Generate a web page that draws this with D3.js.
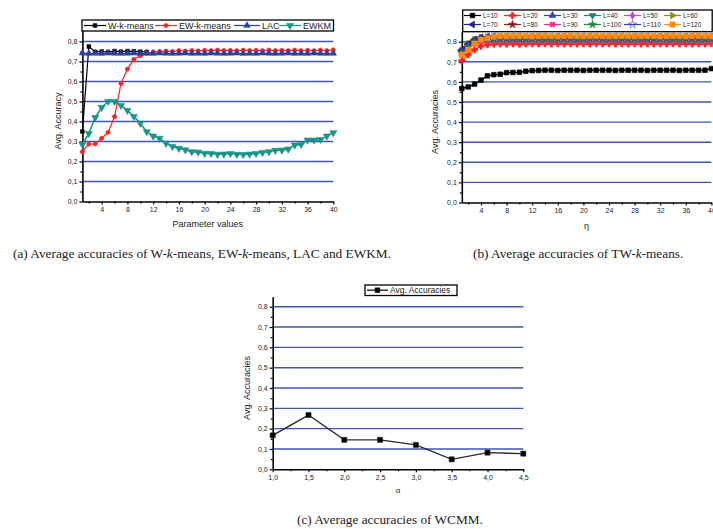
<!DOCTYPE html>
<html><head><meta charset="utf-8">
<script src="https://cdn.jsdelivr.net/npm/d3@7"></script>
<style>body{margin:0;background:#fff}svg{display:block}</style>
</head><body>
<svg id="fig" width="713" height="529"></svg>
<script>
// ---------- DATA ----------
const paramValues = [1,2,3,4,5,6,7,8,9,10,11,12,13,14,15,16,17,18,19,20,21,22,23,24,25,26,27,28,29,30,31,32,33,34,35,36,37,38,39,40];
const yTickValues = [0,0.1,0.2,0.3,0.4,0.5,0.6,0.7,0.8];
const yMinorValues = [0.05,0.15,0.25,0.35,0.45,0.55,0.65,0.75];
const xTickValues = [4,8,12,16,20,24,28,32,36,40];
const xMinorValues = [2,6,10,14,18,22,26,30,34,38];

// (a)
const wkmeans = [0.35,0.775,0.748,0.750,0.747,0.752,0.749,0.752,0.751,0.749,0.748];
const ewkmeans = [0.249,0.287,0.288,0.316,0.346,0.424,0.590,0.662,0.711,0.729,0.742,0.748,0.750,0.752,0.750,0.755,0.752,0.755,0.753,0.756,0.754,0.757,0.755,0.756,0.754,0.757,0.755,0.756,0.754,0.757,0.755,0.756,0.754,0.757,0.755,0.756,0.754,0.757,0.755,0.758];
const lac = [0.742,0.740,0.741,0.740,0.742,0.741,0.740,0.741,0.742,0.740,0.741,0.740,0.742,0.741,0.740,0.741,0.742,0.740,0.741,0.740,0.742,0.741,0.740,0.741,0.742,0.740,0.741,0.740,0.742,0.741,0.740,0.741,0.742,0.740,0.741,0.740,0.742,0.741,0.740,0.741];
const ewkm = [0.285,0.340,0.420,0.470,0.500,0.500,0.480,0.455,0.425,0.391,0.349,0.327,0.316,0.291,0.275,0.266,0.258,0.249,0.247,0.241,0.240,0.236,0.237,0.240,0.236,0.235,0.237,0.240,0.245,0.249,0.256,0.257,0.262,0.282,0.285,0.307,0.307,0.310,0.327,0.344];
const seriesNamesA = ["W-k-means","EW-k-means","LAC","EWKM"];

// (b)
const seriesNamesB = ["L=10","L=20","L=30","L=40","L=50","L=60","L=70","L=80","L=90","L=100","L=110","L=120"];
const tw10 = [0.567,0.575,0.589,0.609,0.630,0.636,0.638,0.646,0.647,0.648,0.653,0.656,0.657,0.658,0.658,0.657,0.658,0.658,0.658,0.657,0.658,0.658,0.658,0.658,0.657,0.658,0.658,0.658,0.658,0.657,0.658,0.658,0.658,0.658,0.657,0.658,0.658,0.658,0.658,0.666];
const tw20 = [0.705,0.735,0.760,0.778,0.785,0.788,0.789,0.788,0.789,0.788,0.789,0.790,0.789,0.790,0.789,0.790,0.789,0.790,0.789,0.790,0.789,0.790,0.789,0.790,0.789,0.790,0.789,0.790,0.789,0.790,0.789,0.790,0.789,0.790,0.789,0.790,0.789,0.790,0.789,0.790];
const tw30 = [0.755,0.785,0.805,0.815,0.818,0.820,0.819,0.820,0.821,0.820,0.819,0.820,0.821,0.820,0.819,0.820,0.821,0.820,0.819,0.820,0.821,0.820,0.819,0.820,0.821,0.820,0.819,0.820,0.821,0.820,0.819,0.820,0.821,0.820,0.819,0.820,0.821,0.820,0.819,0.820];
const tw40 = [0.750,0.780,0.800,0.812,0.818,0.820,0.821,0.820,0.821,0.822,0.821,0.820,0.821,0.822,0.821,0.820,0.821,0.822,0.821,0.820,0.821,0.822,0.821,0.820,0.821,0.822,0.821,0.820,0.821,0.822,0.821,0.820,0.821,0.822,0.821,0.820,0.821,0.822,0.821,0.820];
const tw50 = [0.752,0.782,0.805,0.815,0.820,0.822,0.821,0.822,0.823,0.822,0.821,0.822,0.823,0.822,0.821,0.822,0.823,0.822,0.821,0.822,0.823,0.822,0.821,0.822,0.823,0.822,0.821,0.822,0.823,0.822,0.821,0.822,0.823,0.822,0.821,0.822,0.823,0.822,0.821,0.822];
const tw60 = [0.758,0.790,0.810,0.820,0.823,0.824,0.823,0.824,0.825,0.824,0.823,0.824,0.825,0.824,0.823,0.824,0.825,0.824,0.823,0.824,0.825,0.824,0.823,0.824,0.825,0.824,0.823,0.824,0.825,0.824,0.823,0.824,0.825,0.824,0.823,0.824,0.825,0.824,0.823,0.824];
const tw70 = [0.760,0.790,0.812,0.822,0.825,0.826,0.825,0.826,0.827,0.826,0.825,0.826,0.827,0.826,0.825,0.826,0.827,0.826,0.825,0.826,0.827,0.826,0.825,0.826,0.827,0.826,0.825,0.826,0.827,0.826,0.825,0.826,0.827,0.826,0.825,0.826,0.827,0.826,0.825,0.826];
const tw80 = [0.745,0.775,0.798,0.810,0.815,0.816,0.815,0.816,0.817,0.816,0.815,0.816,0.817,0.816,0.815,0.816,0.817,0.816,0.815,0.816,0.817,0.816,0.815,0.816,0.817,0.816,0.815,0.816,0.817,0.816,0.815,0.816,0.817,0.816,0.815,0.816,0.817,0.816,0.815,0.816];
const tw90 = [0.740,0.770,0.790,0.800,0.802,0.803,0.802,0.803,0.804,0.803,0.802,0.803,0.804,0.803,0.802,0.803,0.804,0.803,0.802,0.803,0.804,0.803,0.802,0.803,0.804,0.803,0.802,0.803,0.804,0.803,0.802,0.803,0.804,0.803,0.802,0.803,0.804,0.803,0.802,0.803];
const tw100 = [0.748,0.778,0.800,0.808,0.810,0.811,0.810,0.811,0.812,0.811,0.810,0.811,0.812,0.811,0.810,0.811,0.812,0.811,0.810,0.811,0.812,0.811,0.810,0.811,0.812,0.811,0.810,0.811,0.812,0.811,0.810,0.811,0.812,0.811,0.810,0.811,0.812,0.811,0.810,0.811];
const tw110 = [0.752,0.783,0.805,0.815,0.817,0.818,0.817,0.818,0.819,0.818,0.817,0.818,0.819,0.818,0.817,0.818,0.819,0.818,0.817,0.818,0.819,0.818,0.817,0.818,0.819,0.818,0.817,0.818,0.819,0.818,0.817,0.818,0.819,0.818,0.817,0.818,0.819,0.818,0.817,0.818];
const tw120 = [0.735,0.760,0.790,0.810,0.818,0.825,0.828,0.827,0.828,0.829,0.828,0.827,0.828,0.829,0.828,0.827,0.828,0.829,0.828,0.827,0.828,0.829,0.828,0.827,0.828,0.829,0.828,0.827,0.828,0.829,0.828,0.827,0.828,0.829,0.828,0.827,0.828,0.829,0.828,0.827];

// (c)
const alphaValues = [1.0,1.5,2.0,2.5,3.0,3.5,4.0,4.5];
const alphaMinor = [1.25,1.75,2.25,2.75,3.25,3.75,4.25];
const wcmm = [0.167,0.267,0.145,0.145,0.120,0.049,0.082,0.077];
const seriesNameC = "Avg. Accuracies";

// ---------- DRAWING ----------
const svg = d3.select("#fig");
const SANS = "'Liberation Sans', Arial, sans-serif";
const SERIF = "'Liberation Serif', 'Times New Roman', serif";
const GRID = "#3d56b2";
const comma = d => d3.format(".1f")(d).replace(".", ",");

function panel(o) {
  const g = svg.append("g");
  const x = d3.scaleLinear().domain(o.xDomain).range([o.left, o.right]);
  const y0 = d3.scaleLinear().domain([0, 0.8]).range([o.bottom, o.y08]);
  const y = d3.scaleLinear().domain([0, y0.invert(o.top)]).range([o.bottom, o.top]);
  g.append("g").selectAll("line").data(yTickValues.filter(d => d > 0)).join("line")
    .attr("x1", o.left).attr("x2", o.right)
    .attr("y1", d => y(d)).attr("y2", d => y(d))
    .attr("stroke", GRID).attr("stroke-width", 1.4);
  g.append("g").attr("transform", `translate(0,${o.bottom})`)
    .call(d3.axisBottom(x).tickValues(o.xMinor).tickSize(2).tickSizeOuter(0).tickFormat(""))
    .call(s => s.select(".domain").remove())
    .call(s => s.selectAll("line").attr("stroke", "#000").attr("stroke-width", 1.2));
  g.append("g").attr("transform", `translate(${o.left},0)`)
    .call(d3.axisLeft(y).tickValues(yMinorValues).tickSize(2).tickSizeOuter(0).tickFormat(""))
    .call(s => s.select(".domain").remove())
    .call(s => s.selectAll("line").attr("stroke", "#000").attr("stroke-width", 1.2));
  const ax = g.append("g").attr("transform", `translate(0,${o.bottom})`)
    .call(d3.axisBottom(x).tickValues(o.xTicks).tickSize(3).tickSizeOuter(0).tickPadding(3).tickFormat(o.xFormat));
  const ay = g.append("g").attr("transform", `translate(${o.left},0)`)
    .call(d3.axisLeft(y).tickValues(yTickValues).tickSize(3).tickSizeOuter(0).tickPadding(2).tickFormat(comma));
  [ax, ay].forEach(a => {
    a.select(".domain").attr("stroke", "#000").attr("stroke-width", 1.6);
    a.selectAll(".tick line").attr("stroke", "#000").attr("stroke-width", 1.2);
    a.selectAll("text").attr("font-family", SANS).attr("font-size", 7).attr("fill", "#222");
  });
  g.append("text").attr("x", (o.left + o.right) / 2).attr("y", o.xTitleY)
    .attr("text-anchor", "middle").attr("font-family", SANS).attr("font-size", o.xTitleSize || 9)
    .attr("fill", "#222").text(o.xTitle);
  g.append("text").attr("transform", `translate(${o.yTitleX},${o.yTitleCY}) rotate(-90)`)
    .attr("text-anchor", "middle").attr("font-family", SANS).attr("font-size", 9)
    .attr("fill", "#222").text(o.yTitle);
  return {g, x, y};
}

function series(p, xs, ys, color, symType, symSize, rot, fill, lw) {
  const pts = ys.map((v, i) => [xs[i], v]);
  const line = d3.line().x(d => p.x(d[0])).y(d => p.y(d[1]));
  p.g.append("path").attr("d", line(pts)).attr("fill", "none")
    .attr("stroke", color).attr("stroke-width", lw || 1.2);
  p.g.append("g").selectAll("path").data(pts).join("path")
    .attr("d", d3.symbol().type(symType).size(symSize)())
    .attr("transform", d => `translate(${p.x(d[0])},${p.y(d[1])}) rotate(${rot || 0})`)
    .attr("fill", fill === undefined ? color : fill).attr("stroke", color).attr("stroke-width", 0.6);
}

function legendItem(g, x0, yMid, len, color, symType, symSize, rot, fill, label, fs) {
  g.append("line").attr("x1", x0).attr("x2", x0 + len).attr("y1", yMid).attr("y2", yMid)
    .attr("stroke", color).attr("stroke-width", 1.2);
  g.append("path").attr("d", d3.symbol().type(symType).size(symSize)())
    .attr("transform", `translate(${x0 + len / 2},${yMid}) rotate(${rot || 0})`)
    .attr("fill", fill === undefined ? color : fill).attr("stroke", color).attr("stroke-width", 0.6);
  g.append("text").attr("x", x0 + len + 2).attr("y", yMid + fs * 0.35)
    .attr("font-family", SANS).attr("font-size", fs).attr("fill", "#222").text(label);
}

// ----- (a) -----
const pa = panel({xDomain: [1, 40], left: 82.4, right: 333.3, bottom: 201.5, y08: 41.5, top: 20,
  xTicks: xTickValues, xMinor: xMinorValues, xFormat: d3.format("d"),
  xTitle: "Parameter values", xTitleY: 227, yTitle: "Avg. Accuracy", yTitleX: 61, yTitleCY: 121});
const colA = ["#000000", "#ff2020", "#2c3f9e", "#1b9488"];
series(pa, paramValues, wkmeans, colA[0], d3.symbolSquare, 14, 0);
series(pa, paramValues, ewkmeans, colA[1], d3.symbolCircle, 14, 0);
series(pa, paramValues, lac, colA[2], d3.symbolTriangle, 18, 0);
series(pa, paramValues, ewkm, colA[3], d3.symbolTriangle, 22, 180, undefined, 1.6);
{
  const lg = svg.append("g");
  lg.append("rect").attr("x", 82).attr("y", 20).attr("width", 251.5).attr("height", 11)
    .attr("fill", "#fff").attr("stroke", "#000").attr("stroke-width", 1.3);
  const items = [[84, 22, d3.symbolSquare, 14, 0], [155, 22, d3.symbolCircle, 14, 0],
                 [234, 26, d3.symbolTriangle, 18, 0], [279, 22, d3.symbolTriangle, 22, 180]];
  items.forEach((it, i) => legendItem(lg, it[0], 25.5, it[1], colA[i], it[2], it[3], it[4], undefined, seriesNamesA[i], 9));
}

// ----- (b) -----
const pb = panel({xDomain: [1, 40], left: 461.8, right: 711.4, bottom: 202.5, y08: 41.7, top: 31.6,
  xTicks: xTickValues, xMinor: xMinorValues, xFormat: d3.format("d"),
  xTitle: "\u03b7", xTitleY: 229, yTitle: "Avg. Accuracies", yTitleX: 438, yTitleCY: 122});
const twData = [tw10, tw20, tw30, tw40, tw50, tw60, tw70, tw80, tw90, tw100, tw110, tw120];
const colB = ["#000000", "#ff2020", "#3344bb", "#14857a", "#d040d0", "#8c8c1c", "#23237e", "#8e1a22", "#ff2a8a", "#1a8a3a", "#3a3aa8", "#ff8a10"];
const symB = [[d3.symbolSquare, 22, 0], [d3.symbolCross, 22, 0], [d3.symbolTriangle, 20, 0], [d3.symbolTriangle, 20, 180],
              [d3.symbolDiamond, 18, 0], [d3.symbolTriangle, 20, 90], [d3.symbolTriangle, 20, 270], [d3.symbolStar, 20, 0],
              [d3.symbolCross, 20, 45], [d3.symbolStar, 20, 0], [d3.symbolStar, 22, 0], [d3.symbolSquare, 28, 0]];
twData.forEach((d, i) => series(pb, paramValues, d, colB[i], symB[i][0], symB[i][1], symB[i][2], i === 10 ? "none" : undefined, i === 0 ? 1.5 : 1.1));
{
  const lg = svg.append("g");
  lg.append("rect").attr("x", 462.7).attr("y", 10).attr("width", 249.5).attr("height", 21.7)
    .attr("fill", "#fff").attr("stroke", "#000").attr("stroke-width", 1.3);
  seriesNamesB.forEach((nm, i) => {
    const col = i % 6, row = Math.floor(i / 6);
    legendItem(lg, 464 + 40 * col, 15.5 + 9 * row, 17, colB[i], symB[i][0], symB[i][1], symB[i][2],
      i === 10 ? "none" : undefined, nm, 6.5);
  });
}

// ----- (c) -----
const pc = panel({xDomain: [1, 4.5], left: 272.7, right: 523.3, bottom: 469.3, y08: 306.7, top: 296.7,
  xTicks: alphaValues, xMinor: alphaMinor, xFormat: comma,
  xTitle: "\u03b1", xTitleY: 493, xTitleSize: 8, yTitle: "Avg. Accuracies", yTitleX: 250, yTitleCY: 388});
series(pc, alphaValues, wcmm, "#2a2a2a", d3.symbolSquare, 26, 0, "#000", 1.4);
{
  const lg = svg.append("g");
  lg.append("rect").attr("x", 365).attr("y", 285).attr("width", 92).attr("height", 10.5)
    .attr("fill", "#fff").attr("stroke", "#000").attr("stroke-width", 1.3);
  legendItem(lg, 367, 290.2, 21, "#000", d3.symbolSquare, 22, 0, "#000", seriesNameC, 8.5);
}

// ----- captions -----
function caption(x, y, parts) {
  const t = svg.append("text").attr("x", x).attr("y", y).attr("font-family", SERIF)
    .attr("font-size", 13.3).attr("fill", "#222");
  parts.forEach(p => t.append("tspan").attr("font-style", p[1] ? "italic" : "normal").text(p[0]));
}
caption(13, 258, [["(a) Average accuracies of W-", 0], ["k", 1], ["-means, EW-", 0], ["k", 1], ["-means, LAC and EWKM.", 0]]);
caption(473, 258, [["(b) Average accuracies of TW-", 0], ["k", 1], ["-means.", 0]]);
caption(297, 524, [["(c) Average accuracies of WCMM.", 0]]);
</script>
</body></html>
